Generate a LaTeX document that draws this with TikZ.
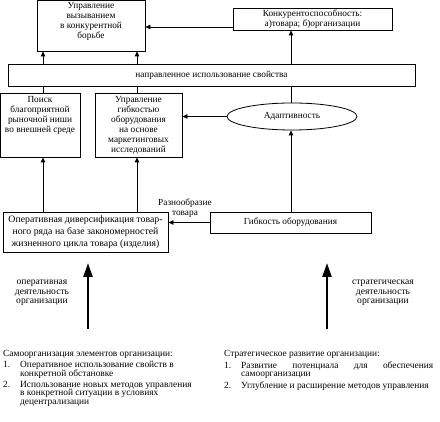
\documentclass[tikz,border=0pt]{standalone}
\usepackage{fontspec}
\setmainfont{Liberation Serif}
\usetikzlibrary{arrows.meta,shapes.geometric}
\begin{document}
\begin{tikzpicture}[x=1pt,y=-1pt,
  box/.style={draw, line width=0.8pt, inner sep=0pt, anchor=center},
  lbl/.style={align=center, inner sep=0pt, font=\fontsize{9.3}{10}\selectfont},
  arr/.style={-{Triangle[length=5pt,width=4.5pt]}, line width=0.8pt},
  big/.style={-{Triangle[length=14pt,width=9pt]}, line width=2.4pt},
  ln/.style={line width=0.8pt},
  lst/.style={anchor=north west, inner sep=0pt, align=left, font=\fontsize{9.4}{8.6}\selectfont}]
\useasboundingbox (0,0) rectangle (440,422);
% boxes
\node[box, minimum width=108pt, minimum height=51pt] (b1) at (91,25.5) {};
\node[lbl, anchor=north] (t1) at ([yshift=-2.5pt]b1.north) {Управление\\вызыванием\\в конкурентной\\борьбе};
\node[box, lbl, draw, minimum width=159pt, minimum height=22pt] (b2) at (312.5,19) {Конкурентоспособность:\\а)товара; б)организации};
\node[box, lbl, draw, minimum width=407pt, minimum height=22pt] (bar) at (211.5,75) {направленное использование свойства};
\node[box, minimum width=80pt, minimum height=64pt] (p) at (40,125) {};
\node[lbl, anchor=north] (tp) at ([yshift=-3.5pt]p.north) {Поиск\\благоприятной\\рыночной ниши\\во внешней среде};
\node[box, minimum width=87pt, minimum height=64pt] (ug) at (138.5,125) {};
\node[lbl, anchor=north] (tug) at ([yshift=-3.5pt]ug.north) {Управление\\гибкостью\\оборудования\\на основе\\маркетинговых\\исследований};
\node[ellipse, draw, line width=0.8pt, inner sep=0pt, minimum width=130pt, minimum height=27pt, font=\fontsize{9.3}{10}\selectfont] (ad) at (292,116.5) {Адаптивность};
\node[box, minimum width=165pt, minimum height=40pt, lbl, draw, font=\fontsize{9.8}{12}\selectfont] (op) at (85.5,232) {Оперативная диверсификация товар-\\ного ряда на базе закономерностей\\жизненного цикла товара (изделия)};
\node[box, lbl, draw, minimum width=161pt, minimum height=21pt] (gb) at (290.5,222.5) {Гибкость оборудования};
% labels
\node[lbl] (rz) at (185,208) {Разнообразие\\товара};
\node[lbl, font=\fontsize{9.6}{9.5}\selectfont] (lo) at (42,293) {оперативная\\деятельность\\организации};
\node[lbl, font=\fontsize{9.6}{9.5}\selectfont] (ls) at (383,293) {стратегическая\\деятельность\\организации};
\node[lst] (ll) at (3,350) {Самоорганизация элементов организации:\\[2pt]
\makebox[17pt][l]{1.}Оперативное использование свойств в\\
\hspace*{17pt}конкретной обстановке\\[2pt]
\makebox[17pt][l]{2.}Использование новых методов управления\\
\hspace*{17pt}в конкретной ситуации в условиях\\
\hspace*{17pt}децентрализации};
\node[lst] (lr) at (224,350) {Стратегическое развитие организации:\\[2pt]
\makebox[17pt][l]{1.}\makebox[192pt][s]{Развитие\hfill потенциала\hfill для\hfill обеспечения}\\
\hspace*{17pt}самоорганизации\\[2pt]
\makebox[17pt][l]{2.}Углубление и расширение методов управления};
% connectors
\coordinate (x1) at (43,0);
\coordinate (x2) at (137,0);
\coordinate (x3) at (291,0);
\path ([yshift=-8pt]b2.west) coordinate (c1);
\draw[arr] (c1) -- (c1 -| b1.east);
\draw[arr] (x1 |- op.north) -- (x1 |- p.south);
\draw[ln] (x1 |- p.north) -- (x1 |- bar.south);
\draw[arr] (x1 |- bar.north) -- (x1 |- b1.south);
\draw[arr] (x2 |- op.north) -- (x2 |- ug.south);
\draw[ln] (x2 |- ug.north) -- (x2 |- bar.south);
\draw[arr] (x2 |- bar.north) -- (x2 |- b1.south);
\draw[ln] (x3 |- bar.south) -- (x3 |- ad.north);
\draw[arr] (x3 |- bar.north) -- (x3 |- b2.south);
\draw[arr] (x3 |- gb.north) -- (x3 |- ad.south);
\draw[arr] (ad.west) -- (ad.west -| ug.east);
\draw[arr] (gb.west) -- (gb.west -| op.east);
\coordinate (s1) at (88,329);
\coordinate (e1) at (88,263);
\coordinate (s2) at (327,329);
\coordinate (e2) at (327,263);
\draw[big] (s1) -- (e1);
\draw[big] (s2) -- (e2);
\end{tikzpicture}
\end{document}
